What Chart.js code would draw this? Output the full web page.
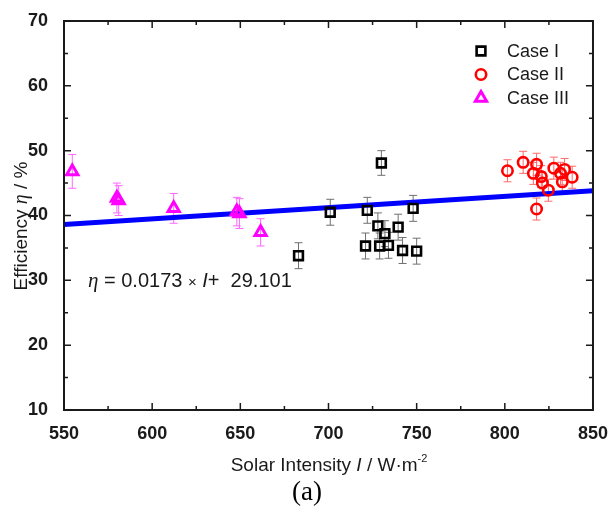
<!DOCTYPE html>
<html>
<head>
<meta charset="utf-8">
<script src="https://cdn.jsdelivr.net/npm/chart.js@4.4.1/dist/chart.umd.min.js"></script>
<style>
  html, body { margin: 0; padding: 0; background: #fff; }
  #wrap { width: 613px; height: 512px; }
</style>
</head>
<body>
<div id="wrap"><canvas id="chart"></canvas></div>
<script>
// values
const caseIX   = [683, 701, 721, 722, 728, 729, 730, 732, 734, 739.5, 742, 748, 750];
const caseIY   = [33.8, 40.5, 35.3, 40.8, 38.4, 35.3, 48.1, 37.2, 35.4, 38.2, 34.6, 41.1, 34.5];
const caseIErr = [2.0, 2.0, 2.0, 2.0, 2.0, 2.0, 1.9, 2.0, 2.0, 2.0, 2.0, 2.0, 2.0];

const caseIIX   = [801.5, 810.4, 816.2, 818, 818, 820.7, 821.3, 824.7, 827.8, 831.6, 832.6, 833.9, 838.2];
const caseIIY   = [46.9, 48.2, 46.5, 47.9, 41.0, 46.0, 45.0, 43.9, 47.3, 46.5, 45.2, 47.1, 45.9];
const caseIIErr = [1.7, 1.7, 1.7, 1.7, 1.7, 1.7, 1.7, 1.7, 1.7, 1.7, 1.7, 1.7, 1.7];

const caseIIIX   = [554.7, 580, 581, 612.2, 648, 649.5, 661.5];
const caseIIIY   = [46.8, 42.7, 42.3, 41.1, 40.6, 40.3, 37.4];
const caseIIIErr = [2.6, 2.3, 2.3, 2.3, 2.2, 2.3, 2.1];

// fitted line  eta = 0.0173 * I + 29.101
const fitX = [550, 850];
const fitY = [38.62, 43.81];

const xTickValues  = [550, 600, 650, 700, 750, 800, 850];
const xMinorValues = [575, 625, 675, 725, 775, 825];
const yTickValues  = [10, 20, 30, 40, 50, 60, 70];
const yMinorValues = [15, 25, 35, 45, 55, 65];

const legendLabels = ['Case I', 'Case II', 'Case III'];

const toPoints = (xs, ys) => xs.map((x, i) => ({ x: x, y: ys[i] }));

const SANS = '"Liberation Sans", Arial, sans-serif';
const SERIF = '"Liberation Serif", "Times New Roman", serif';
const INK = '#1a1a1a';

const errorSets = [
  { xs: caseIX, ys: caseIY, err: caseIErr, color: '#707070' },
  { xs: caseIIX, ys: caseIIY, err: caseIIErr, color: '#ff6a6a' },
  { xs: caseIIIX, ys: caseIIIY, err: caseIIIErr, color: '#ff66ff' }
];

// draws runs of text with mixed fonts, left to right
function drawRuns(ctx, runs, x, y) {
  let cx = x;
  runs.forEach(r => {
    ctx.font = r.font;
    ctx.fillText(r.text, cx, y + (r.dy || 0));
    cx += ctx.measureText(r.text).width;
  });
  return cx;
}
function runsWidth(ctx, runs) {
  let w = 0;
  runs.forEach(r => { ctx.font = r.font; w += ctx.measureText(r.text).width; });
  return w;
}

const decorations = {
  id: 'decorations',
  beforeDatasetsDraw(chart) {
    const ctx = chart.ctx;
    const xs = chart.scales.x, ys = chart.scales.y;
    ctx.save();
    ctx.lineWidth = 1;
    errorSets.forEach(set => {
      ctx.strokeStyle = set.color;
      set.xs.forEach((v, i) => {
        const px = xs.getPixelForValue(v);
        const top = ys.getPixelForValue(set.ys[i] + set.err[i]);
        const bot = ys.getPixelForValue(set.ys[i] - set.err[i]);
        ctx.beginPath();
        ctx.moveTo(px, top); ctx.lineTo(px, bot);
        ctx.moveTo(px - 4, top); ctx.lineTo(px + 4, top);
        ctx.moveTo(px - 4, bot); ctx.lineTo(px + 4, bot);
        ctx.stroke();
      });
    });
    ctx.restore();
  },
  afterDraw(chart) {
    const ctx = chart.ctx;
    const a = chart.chartArea;
    const xs = chart.scales.x, ys = chart.scales.y;
    ctx.save();

    // frame
    ctx.strokeStyle = INK;
    ctx.lineWidth = 2;
    ctx.strokeRect(a.left, a.top, a.right - a.left, a.bottom - a.top);

    // inward ticks on all four sides
    const tick = (vals, len) => {
      vals.forEach(v => {
        const px = xs.getPixelForValue(v);
        ctx.beginPath();
        ctx.moveTo(px, a.bottom); ctx.lineTo(px, a.bottom - len);
        ctx.moveTo(px, a.top); ctx.lineTo(px, a.top + len);
        ctx.stroke();
      });
    };
    const tickY = (vals, len) => {
      vals.forEach(v => {
        const py = ys.getPixelForValue(v);
        ctx.beginPath();
        ctx.moveTo(a.left, py); ctx.lineTo(a.left + len, py);
        ctx.moveTo(a.right, py); ctx.lineTo(a.right - len, py);
        ctx.stroke();
      });
    };
    ctx.lineWidth = 1.5;
    tick(xTickValues, 7);
    tick(xMinorValues, 4);
    tickY(yTickValues, 7);
    tickY(yMinorValues, 4);

    // legend
    const ds = chart.data.datasets;
    ctx.textBaseline = 'middle';
    ctx.textAlign = 'left';
    legendLabels.forEach((lab, i) => {
      const d = ds[i];
      const cy = 51 + i * 23.5;
      ctx.fillStyle = 'rgba(0,0,0,0)';
      ctx.strokeStyle = d.borderColor;
      ctx.lineWidth = d.borderWidth;
      Chart.helpers.drawPoint(ctx, {
        pointStyle: d.pointStyle,
        radius: d.pointRadius,
        borderWidth: d.borderWidth,
        rotation: 0
      }, 481, cy);
      ctx.fillStyle = INK;
      ctx.font = '18px ' + SANS;
      ctx.fillText(lab, 507, cy + 1);
    });

    // fit equation
    ctx.textBaseline = 'alphabetic';
    ctx.fillStyle = INK;
    drawRuns(ctx, [
      { text: '\u03B7', font: 'italic 21px ' + SERIF },
      { text: ' = 0.0173 ', font: '20px ' + SANS },
      { text: '\u00D7', font: '15px ' + SANS },
      { text: ' ', font: '20px ' + SANS },
      { text: 'I', font: 'italic 20px ' + SANS },
      { text: '+  29.101', font: '20px ' + SANS }
    ], 88, 287);

    // x axis title
    const xRuns = [
      { text: 'Solar Intensity ', font: '19px ' + SANS },
      { text: 'I', font: 'italic 19px ' + SANS },
      { text: ' / W\u00B7m', font: '19px ' + SANS },
      { text: '-2', font: '11px ' + SANS, dy: -9 }
    ];
    drawRuns(ctx, xRuns, 329 - runsWidth(ctx, xRuns) / 2, 471);

    // y axis title (rotated)
    const yRuns = [
      { text: 'Efficiency ', font: '19px ' + SANS },
      { text: '\u03B7', font: 'italic 20px ' + SERIF },
      { text: ' / %', font: '19px ' + SANS }
    ];
    ctx.save();
    ctx.translate(27, 226);
    ctx.rotate(-Math.PI / 2);
    drawRuns(ctx, yRuns, -runsWidth(ctx, yRuns) / 2, 0);
    ctx.restore();

    // panel caption
    ctx.textAlign = 'center';
    ctx.font = '27px ' + SERIF;
    ctx.fillStyle = '#000';
    ctx.fillText('(a)', 307, 500);

    ctx.restore();
  }
};

new Chart(document.getElementById('chart'), {
  type: 'scatter',
  data: {
    datasets: [
      {
        label: legendLabels[0],
        data: toPoints(caseIX, caseIY),
        pointStyle: 'rect',
        pointRadius: 6.2,
        borderWidth: 2.6,
        borderColor: '#000000',
        backgroundColor: 'rgba(0,0,0,0)',
        order: 1
      },
      {
        label: legendLabels[1],
        data: toPoints(caseIIX, caseIIY),
        pointStyle: 'circle',
        pointRadius: 5.2,
        borderWidth: 2.6,
        borderColor: '#ff0000',
        backgroundColor: 'rgba(0,0,0,0)',
        order: 1
      },
      {
        label: legendLabels[2],
        data: toPoints(caseIIIX, caseIIIY),
        pointStyle: 'triangle',
        pointRadius: 6.5,
        borderWidth: 3,
        borderColor: '#ff00ff',
        backgroundColor: 'rgba(0,0,0,0)',
        order: 1
      },
      {
        type: 'line',
        label: 'fit',
        data: toPoints(fitX, fitY),
        borderColor: '#0000ff',
        borderWidth: 5,
        pointRadius: 0,
        fill: false,
        order: 2
      }
    ]
  },
  options: {
    responsive: true,
    maintainAspectRatio: false,
    animation: false,
    layout: { padding: { left: 0, right: 17, top: 21, bottom: 0 } },
    plugins: {
      legend: { display: false },
      tooltip: { enabled: false }
    },
    scales: {
      x: {
        type: 'linear',
        min: 550,
        max: 850,
        afterBuildTicks: s => { s.ticks = xTickValues.map(v => ({ value: v })); },
        afterFit: s => { s.height = 102; },
        grid: { display: false },
        border: { display: false },
        ticks: {
          padding: 5,
          color: INK,
          font: { family: SANS, size: 18, weight: 'bold' }
        }
      },
      y: {
        type: 'linear',
        min: 10,
        max: 70,
        afterBuildTicks: s => { s.ticks = yTickValues.map(v => ({ value: v })); },
        afterFit: s => { s.width = 64; },
        grid: { display: false },
        border: { display: false },
        ticks: {
          padding: 8,
          color: INK,
          font: { family: SANS, size: 18, weight: 'bold' }
        }
      }
    }
  },
  plugins: [decorations]
});
</script>
</body>
</html>
